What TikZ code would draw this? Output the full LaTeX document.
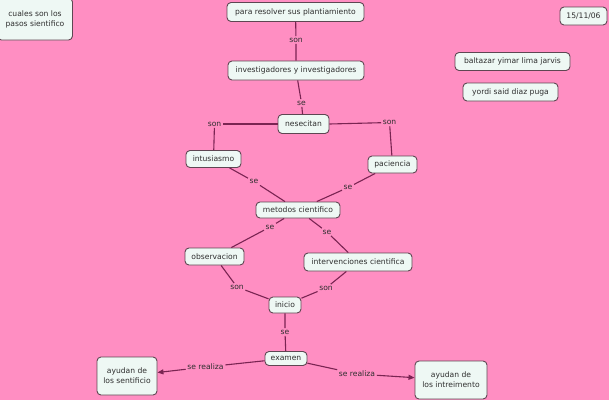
\documentclass[tikz,border=0pt]{standalone}
\usepackage{fontspec}
\setmainfont{DejaVu Sans}
\usetikzlibrary{arrows.meta}
\definecolor{bg}{HTML}{FF8EC2}
\definecolor{boxfill}{HTML}{EEF8F4}
\definecolor{boxline}{HTML}{5E4652}
\definecolor{linkc}{HTML}{7A2452}
\definecolor{txt}{HTML}{2E2E2E}
\tikzset{
  concept/.style={draw=boxline, fill=boxfill, line width=0.9pt, rounded corners=4pt,
    inner sep=0pt, align=center, font=\fontsize{7.6}{10}\selectfont, text=txt},
  lbl/.style={fill=bg, inner sep=1.5pt, font=\fontsize{7.6}{8}\selectfont, text=txt},
  link/.style={draw=linkc, line width=1.1pt},
  arr/.style={link, -{Triangle[length=6pt,width=5pt]}}
}
\begin{document}
\begin{tikzpicture}[x=1pt,y=-1pt]
\fill[bg] (0,0) rectangle (609,400);
\useasboundingbox (0,0) rectangle (609,400);

\node[concept, minimum width=75pt, minimum height=42pt] (cuales) at (35,19) {cuales son los\\pasos sientifico};
\node[concept, minimum width=137pt, minimum height=19pt] (para) at (295.5,12) {para resolver sus plantiamiento};
\node[concept, minimum width=136pt, minimum height=19pt] (inv) at (296,70.5) {investigadores y investigadores};
\node[concept, minimum width=51pt, minimum height=19pt] (nes) at (303.5,124) {nesecitan};
\node[concept, minimum width=55pt, minimum height=17pt] (intu) at (213.5,159) {intusiasmo};
\node[concept, minimum width=49pt, minimum height=17pt] (pac) at (392.5,164.5) {paciencia};
\node[concept, minimum width=84pt, minimum height=16pt] (met) at (298,210) {metodos cientifico};
\node[concept, minimum width=59pt, minimum height=17pt] (obs) at (214.5,256.5) {observacion};
\node[concept, minimum width=108pt, minimum height=18pt] (intv) at (358,262) {intervenciones cientifica};
\node[concept, minimum width=32pt, minimum height=16pt] (ini) at (285,305) {inicio};
\node[concept, minimum width=42pt, minimum height=14pt] (exa) at (286,358.5) {examen};
\node[concept, minimum width=60pt, minimum height=38pt] (ayL) at (127,376) {ayudan de\\los sentificio};
\node[concept, minimum width=72pt, minimum height=38pt] (ayR) at (451,380) {ayudan de\\los intreimento};
\node[concept, minimum width=47pt, minimum height=18pt] (date) at (583.5,16) {15/11/06};
\node[concept, minimum width=115pt, minimum height=18pt] (balt) at (512.5,61.5) {baltazar yimar lima jarvis};
\node[concept, minimum width=95pt, minimum height=18pt] (yor) at (510.5,92) {yordi said diaz puga};

\node[lbl] (l1) at (296,40) {son};
\node[lbl] (l2) at (301.5,103) {se};
\node[lbl] (l3) at (214.5,124) {son};
\node[lbl] (l4) at (389.5,122.5) {son};
\node[lbl] (l5) at (254,181.5) {se};
\node[lbl] (l6) at (348,187.5) {se};
\node[lbl] (l7) at (270,227) {se};
\node[lbl] (l8) at (327,232) {se};
\node[lbl] (l9) at (237,287) {son};
\node[lbl] (l10) at (326,288) {son};
\node[lbl] (l11) at (285,332) {se};
\node[lbl] (l12) at (205.5,367) {se realiza};
\node[lbl] (l13) at (357,374) {se realiza};

\draw[link] (para) -- (l1) -- (inv);
\draw[link] (inv) -- (l2) -- (nes);
\draw[link] (nes.west) -- (l3);
\draw[link] (l3) -- (intu);
\draw[link] (nes.east) -- (l4);
\draw[link] (l4) -- (pac);
\draw[link] (intu) -- (l5) -- (met);
\draw[link] (pac) -- (l6) -- (met);
\draw[link] (met) -- (l7) -- (obs);
\draw[link] (met) -- (l8) -- (intv);
\draw[link] (obs) -- (l9) -- (ini);
\draw[link] (intv) -- (l10) -- (ini);
\draw[link] (ini) -- (l11) -- (exa);
\draw[link] (exa) -- (l12);
\draw[arr] (l12) -- (ayL);
\draw[link] (exa) -- (l13);
\draw[arr] (l13) -- (ayR);
\end{tikzpicture}
\end{document}
